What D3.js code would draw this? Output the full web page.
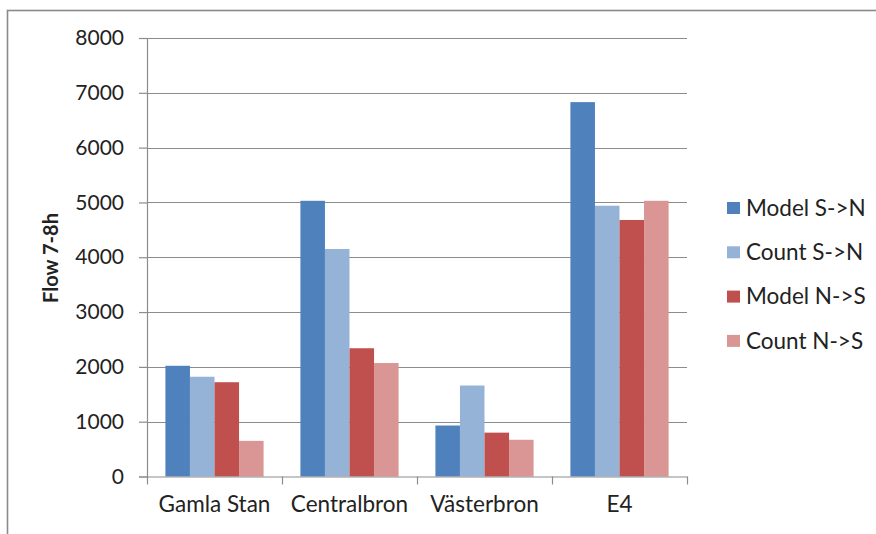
<!DOCTYPE html>
<html>
<head>
<meta charset="utf-8">
<script src="https://cdn.jsdelivr.net/npm/d3@7/dist/d3.min.js"></script>
<style>
  html, body { margin: 0; padding: 0; background: #fff; }
  svg { display: block; }
  text { font-family: Lato, "Open Sans", sans-serif; fill: #222; }
</style>
</head>
<body>
<div id="chart"></div>
<script>
// Morning peak (7–8h) traffic flow across four crossings
const categories = ["Gamla Stan", "Centralbron", "Västerbron", "E4"];
const seriesNames = ["Model S->N", "Count S->N", "Model N->S", "Count N->S"];
const seriesColors = ["#4F81BD", "#95B3D7", "#C0504D", "#D99694"];
const modelSN = [2020, 5030, 930, 6830];
const countSN = [1820, 4150, 1660, 4940];
const modelNS = [1720, 2340, 800, 4680];
const countNS = [650, 2070, 670, 5030];
const yTicks = [0, 1000, 2000, 3000, 4000, 5000, 6000, 7000, 8000];
const yTitle = "Flow 7-8h";

const seriesValues = [modelSN, countSN, modelNS, countNS];

const W = 876, H = 534;
const plot = { left: 147, right: 687, top: 38, bottom: 476.5 };

const svg = d3.select("#chart").append("svg")
  .attr("width", W).attr("height", H);

// chart area frame
svg.append("rect")
  .attr("x", 7.5).attr("y", 10.5)
  .attr("width", W + 10).attr("height", H + 10)
  .attr("fill", "#fff")
  .attr("stroke", "#8a8a8a").attr("stroke-width", 1.6);

const x = d3.scaleBand().domain(categories)
  .range([plot.left, plot.right]).paddingInner(0).paddingOuter(0);
// four bars per group, gap of 1.5 bar widths between groups
const barW = x.bandwidth() / 5.5;
const xs = d3.scaleBand().domain(seriesNames)
  .range([barW * 0.75, barW * 4.75]).padding(0);

const y = d3.scaleLinear().domain([0, 8000]).range([plot.bottom, plot.top]);

// horizontal gridlines
svg.append("g").selectAll("line").data(yTicks.slice(1)).join("line")
  .attr("x1", plot.left).attr("x2", plot.right)
  .attr("y1", d => Math.round(y(d)) + 0.5).attr("y2", d => Math.round(y(d)) + 0.5)
  .attr("stroke", "#8c8c8c").attr("stroke-width", 1.2);

// bars
const groups = svg.append("g").selectAll("g").data(categories).join("g")
  .attr("transform", d => `translate(${x(d)},0)`);
groups.selectAll("rect")
  .data((c, i) => seriesNames.map((s, k) => ({ s, v: seriesValues[k][i], k })))
  .join("rect")
  .attr("x", d => xs(d.s))
  .attr("width", xs.bandwidth())
  .attr("y", d => y(d.v))
  .attr("height", d => y(0) - y(d.v))
  .attr("fill", d => seriesColors[d.k]);

// y axis
const yAxis = svg.append("g")
  .attr("transform", `translate(${plot.left},0)`)
  .call(d3.axisLeft(y).tickValues(yTicks).tickSize(8).tickPadding(15).tickFormat(d3.format("d")));
yAxis.select(".domain").attr("stroke", "#8c8c8c").attr("stroke-width", 1.2);
yAxis.selectAll(".tick line").attr("stroke", "#8c8c8c").attr("stroke-width", 1.2);
yAxis.selectAll(".tick text")
  .attr("font-family", "Lato, sans-serif").attr("font-size", 21).attr("fill", "#222");

// x axis
const xAxis = svg.append("g")
  .attr("transform", `translate(0,${plot.bottom})`)
  .call(d3.axisBottom(x).tickSize(0).tickPadding(20));
xAxis.select(".domain").attr("stroke", "#8c8c8c").attr("stroke-width", 1.2);
xAxis.selectAll(".tick text")
  .attr("font-family", "Lato, sans-serif").attr("font-size", 22.5).attr("fill", "#222");
// category separators
const sepPositions = categories.map(c => x(c)).concat([plot.right]);
svg.append("g").selectAll("line").data(sepPositions).join("line")
  .attr("x1", d => Math.round(d) + 0.5).attr("x2", d => Math.round(d) + 0.5)
  .attr("y1", plot.bottom).attr("y2", plot.bottom + 8)
  .attr("stroke", "#8c8c8c").attr("stroke-width", 1.2);

// y axis title
svg.append("text")
  .attr("transform", `translate(58,258) rotate(-90)`)
  .attr("text-anchor", "middle")
  .attr("font-size", 20).attr("font-weight", "bold")
  .text(yTitle);

// legend
const legend = svg.append("g").selectAll("g").data(seriesNames).join("g")
  .attr("transform", (d, i) => `translate(727,${208 + i * 44.3})`);
legend.append("rect")
  .attr("x", 0).attr("y", -6).attr("width", 13).attr("height", 12)
  .attr("fill", (d, i) => seriesColors[i]);
legend.append("text")
  .attr("x", 19).attr("y", 0).attr("dy", "0.35em")
  .attr("font-size", 22.5)
  .text(d => d);
</script>
</body>
</html>
